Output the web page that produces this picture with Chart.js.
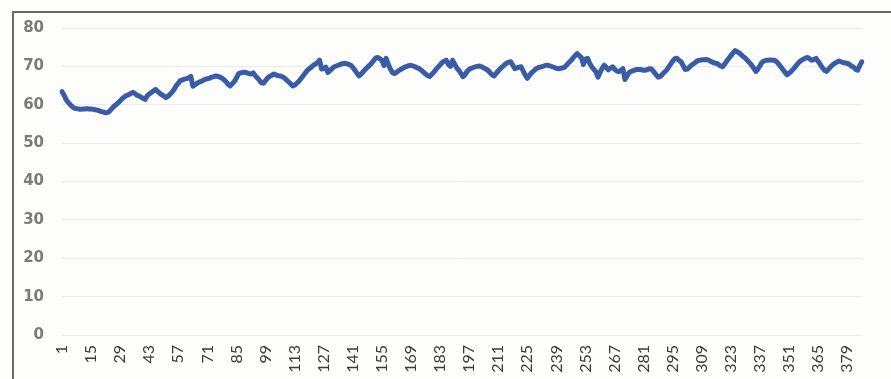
<!DOCTYPE html>
<html>
<head>
<meta charset="utf-8">
<script src="https://cdn.jsdelivr.net/npm/chart.js@4/dist/chart.umd.min.js"></script>
<style>
  html, body { margin: 0; padding: 0; background: #fdfdfc; }
  #wrap { position: relative; width: 891px; height: 379px; overflow: hidden; }
  #frame {
    position: absolute; left: 12px; top: 11px; right: -2px; bottom: -2px;
    border-left: 2px solid #6a6a6a; border-top: 2px solid #6a6a6a;
    pointer-events: none;
  }
  canvas { position: absolute; left: 0; top: 0; }
</style>
</head>
<body>
<div id="wrap">
  <canvas id="lineChart" width="891" height="379"></canvas>
  <div id="frame"></div>
</div>
<script>
// x labels shown under the axis, one every 14 points
const tickLabels = ["1", "15", "29", "43", "57", "71", "85", "99", "113", "127", "141", "155", "169", "183",
  "197", "211", "225", "239", "253", "267", "281", "295", "309", "323", "337", "351", "365", "379"];

// values, points 1..386
const seriesValues = [
  63.4, 62.5, 61.3, 60.6, 60.0, 59.5, 59.1, 59.0, 58.9, 58.8,
  58.9, 58.9, 59.0, 58.9, 58.9, 58.8, 58.7, 58.6, 58.4, 58.2,
  58.1, 57.9, 58.0, 58.4, 59.0, 59.6, 60.0, 60.5, 61.0, 61.6,
  62.0, 62.4, 62.6, 62.9, 63.2, 63.0, 62.5, 62.3, 62.0, 61.7,
  61.4, 62.3, 62.8, 63.2, 63.6, 64.0, 63.5, 63.0, 62.6, 62.3,
  61.9, 62.2, 62.7, 63.3, 64.0, 65.0, 65.6, 66.3, 66.5, 66.7,
  66.8, 67.0, 67.4, 64.8, 65.2, 65.6, 65.9, 66.1, 66.4, 66.6,
  66.8, 66.9, 67.2, 67.3, 67.5, 67.4, 67.2, 66.9, 66.5, 66.0,
  65.3, 64.9, 65.5, 66.1, 67.0, 68.1, 68.3, 68.4, 68.5, 68.3,
  68.1, 68.0, 68.3, 67.6, 67.0, 66.4, 65.7, 65.6, 66.3, 67.0,
  67.4, 67.7, 68.0, 67.8, 67.6, 67.5, 67.3, 67.0, 66.5, 66.0,
  65.5, 64.9, 65.1, 65.6, 66.1, 66.8, 67.5, 68.2, 68.9, 69.4,
  69.8, 70.3, 70.6, 71.0, 71.6, 69.3, 69.5, 69.8, 68.4, 68.9,
  69.4, 69.9, 70.1, 70.3, 70.5, 70.7, 70.8, 70.7, 70.5, 70.3,
  69.7, 69.0, 68.2, 67.5, 68.0, 68.6, 69.2, 69.7, 70.3, 70.8,
  71.5, 72.2, 72.3, 72.0, 71.6, 70.2, 72.1, 70.6, 69.4, 68.4,
  68.1, 68.4, 68.9, 69.2, 69.5, 69.8, 70.0, 70.2, 70.3, 70.1,
  69.9, 69.6, 69.4, 69.0, 68.5, 68.0, 67.6, 67.4, 67.9, 68.5,
  69.2, 69.8, 70.4, 71.0, 71.4, 71.6, 70.5, 70.0, 71.6, 70.6,
  69.6, 69.0, 68.2, 67.3, 67.8, 68.7, 69.2, 69.5, 69.7, 69.9,
  70.0, 70.1, 69.9, 69.6, 69.3, 69.0, 68.4, 67.8, 67.5, 68.2,
  68.8, 69.4, 69.9, 70.4, 70.8, 71.1, 71.2, 70.3, 69.4, 69.6,
  69.8, 69.9, 68.8, 67.7, 66.9, 67.6, 68.3, 68.8, 69.3, 69.6,
  69.8, 69.9, 70.1, 70.3, 70.3, 70.1, 69.9, 69.7, 69.5, 69.4,
  69.5, 69.6, 69.8, 70.4, 71.0, 71.5, 72.2, 72.8, 73.3, 72.8,
  72.3, 70.5, 71.9, 72.1, 70.8, 69.9, 69.2, 68.6, 67.2, 68.4,
  69.5, 70.3, 69.7, 69.1, 69.5, 69.9, 69.3, 68.8, 68.6, 69.0,
  69.4, 66.6, 67.5, 68.4, 68.7, 68.9, 69.1, 69.2, 69.2, 69.1,
  69.0, 69.0, 69.2, 69.4, 69.2, 68.5, 67.8, 67.2, 67.4, 67.9,
  68.5, 69.0, 69.8, 70.6, 71.4, 72.0, 72.1, 71.6, 71.2, 70.2,
  69.2, 69.3, 69.8, 70.3, 70.7, 71.1, 71.5, 71.6, 71.7, 71.7,
  71.8, 71.7, 71.4, 71.1, 70.9, 70.8, 70.5, 70.1, 69.9, 70.6,
  71.4, 72.1, 72.8, 73.5, 74.1, 73.8, 73.5, 73.0, 72.5, 72.1,
  71.5, 70.9, 70.3, 69.5, 68.7, 69.3, 70.2, 71.1, 71.4, 71.6,
  71.6, 71.7, 71.6, 71.6, 71.2, 70.6, 69.9, 69.2, 68.5, 67.8,
  68.2, 68.7, 69.3, 69.9, 70.6, 71.2, 71.6, 71.9, 72.2, 72.3,
  71.9, 71.6, 71.8, 72.1, 71.3, 70.5, 69.7, 69.0, 68.7, 69.3,
  69.9, 70.4, 70.8, 71.1, 71.4, 71.2, 71.0, 70.9, 70.8, 70.5,
  70.1, 69.8, 69.2, 69.0, 70.2, 71.2
];

const categories = seriesValues.map((v, i) => String(i + 1));

const ctx = document.getElementById("lineChart");

new Chart(ctx, {
  type: "line",
  data: {
    labels: categories,
    datasets: [
      {
        data: seriesValues,
        borderColor: "#3a5ca6",
        borderWidth: 5,
        borderJoinStyle: "round",
        borderCapStyle: "round",
        pointRadius: 0,
        tension: 0,
        fill: false,
      },
    ],
  },
  options: {
    responsive: false,
    animation: false,
    layout: { padding: { left: 0, top: 28, right: 5, bottom: 0 } },
    plugins: {
      legend: { display: false },
      tooltip: { enabled: false },
    },
    scales: {
      x: {
        offset: false,
        border: { display: false },
        grid: { display: false, drawTicks: false },
        afterFit: (scale) => { scale.height = 44; },
        ticks: {
          autoSkip: false,
          maxRotation: 90,
          minRotation: 90,
          padding: 10,
          color: "#3c3c3c",
          font: { family: "Lato", size: 16 },
          callback: function (value) {
            const lab = this.getLabelForValue(value);
            return tickLabels.includes(lab) ? lab : "";
          },
        },
      },
      y: {
        min: 0,
        max: 80,
        border: { display: false },
        grid: { color: "#ebebe8", lineWidth: 1, drawTicks: false },
        afterFit: (scale) => { scale.width = 62; },
        ticks: {
          stepSize: 10,
          padding: 18,
          color: "#7a7a7a",
          font: { family: "DejaVu Sans", size: 15, weight: "bold" },
        },
      },
    },
  },
});
</script>
</body>
</html>
